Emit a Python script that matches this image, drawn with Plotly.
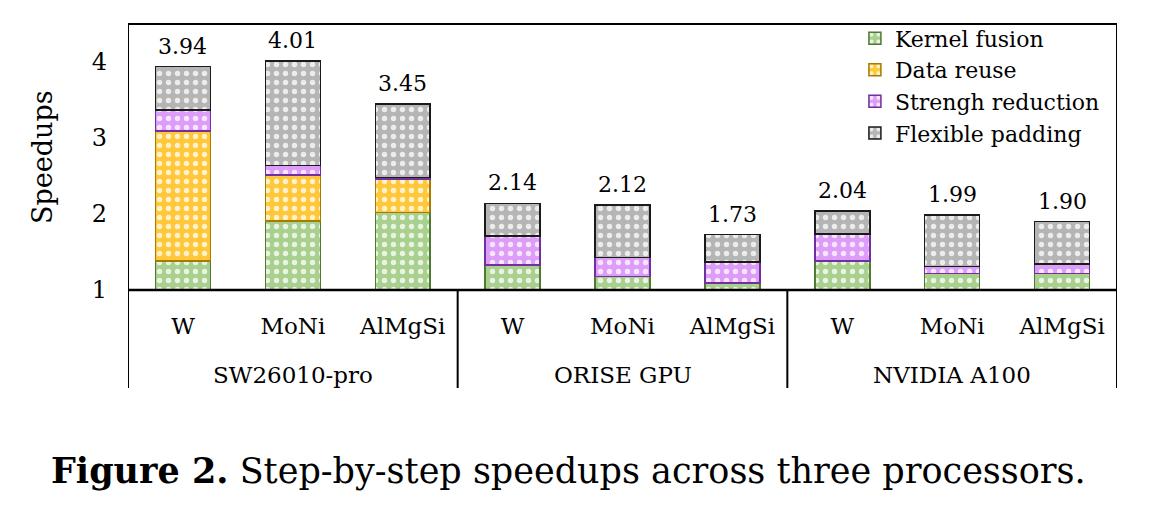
import plotly.graph_objects as go

# ---- data (cumulative speedup after each optimisation step) ----
groups = ["SW26010-pro", "ORISE GPU", "NVIDIA A100"]
materials = ["W", "MoNi", "AlMgSi"]
after_kernel_fusion = [1.38, 1.91, 2.02, 1.33, 1.18, 1.09, 1.38, 1.22, 1.22]
after_data_reuse    = [3.09, 2.51, 2.46, 1.33, 1.18, 1.09, 1.38, 1.22, 1.22]
after_strength_red  = [3.37, 2.64, 2.48, 1.71, 1.43, 1.37, 1.74, 1.31, 1.34]
after_padding       = [3.94, 4.01, 3.45, 2.14, 2.12, 1.73, 2.04, 1.99, 1.90]
total_labels = ["3.94", "4.01", "3.45", "2.14", "2.12", "1.73", "2.04", "1.99", "1.90"]
series_names = ["Kernel fusion", "Data reuse", "Strengh reduction", "Flexible padding"]
y_ticks = [1, 2, 3, 4]

FONT = "DejaVu Serif"
fills = ["#a9d08e", "#ffc83a", "#dc9cf8", "#b5b5b5"]
edges = ["#4f7a32", "#a57c00", "#7030a0", "#1a1a1a"]

xs = list(range(len(after_padding)))
xlabels = materials * len(groups)

levels = [after_kernel_fusion, after_data_reuse, after_strength_red, after_padding]
segments = []
prev = [0.0] * len(xs)
for lv in levels:
    segments.append([round(a - b, 4) for a, b in zip(lv, prev)])
    prev = lv

fig = go.Figure()
for name, seg, fc, ec in zip(series_names, segments, fills, edges):
    fig.add_trace(go.Bar(
        x=xs, y=seg, name=name, width=0.5,
        marker=dict(color=fc, line=dict(color=ec, width=1.5),
                    pattern=dict(shape=".", fgcolor="white", size=9, solidity=0.28,
                                 fgopacity=0.75)),
        hoverinfo="skip",
    ))

annotations = []
# total labels above the bars
for xv, yv, t in zip(xs, after_padding, total_labels):
    annotations.append(dict(x=xv, y=yv, xref="x", yref="y", text=t, showarrow=False,
                            yanchor="bottom", yshift=6,
                            font=dict(family=FONT, size=22, color="black")))
# group labels
for gi, g in enumerate(groups):
    annotations.append(dict(x=gi * 3 + 1, xref="x", y=-0.32, yref="paper",
                            text=g, showarrow=False, yanchor="middle",
                            font=dict(family=FONT, size=23, color="black")))
annotations.append(dict(x=-0.087, xref="paper", y=0.5, yref="paper", text="Speedups",
                        textangle=-90, showarrow=False, xanchor="center", yanchor="middle",
                        font=dict(family=FONT, size=27, color="black")))
annotations.append(dict(
    x=(568 - 128) / 989, xref="paper", y=(290 - 470) / 266, yref="paper",
    text="<b>Figure 2.</b> Step-by-step speedups across three processors.",
    showarrow=False, xanchor="center", yanchor="middle",
    font=dict(family=FONT, size=35, color="black")))

shapes = []
for xd in [-0.5, 2.5, 5.5, 8.5]:
    shapes.append(dict(type="line", xref="x", yref="paper", x0=xd, x1=xd,
                       y0=(290 - 388) / 266, y1=0 if xd in (2.5, 5.5) else 1,
                       line=dict(color="black", width=2)))
shapes.append(dict(type="line", xref="paper", yref="paper", x0=0, x1=1, y0=1, y1=1,
                   line=dict(color="black", width=2)))
shapes.append(dict(type="line", xref="paper", yref="paper", x0=0, x1=1, y0=0, y1=0,
                   line=dict(color="black", width=2.5)))

fig.update_layout(
    barmode="stack",
    width=1166, height=518,
    margin=dict(l=128, r=49, t=24, b=228),
    paper_bgcolor="white", plot_bgcolor="white",
    font=dict(family=FONT, color="black"),
    showlegend=True,
    legend=dict(x=0.735, y=1.025, xanchor="left", yanchor="top", traceorder="normal",
                font=dict(family=FONT, size=22, color="black"),
                bgcolor="rgba(0,0,0,0)", itemwidth=30, tracegroupgap=0),
    xaxis=dict(range=[-0.5, 8.5], tickmode="array", tickvals=xs, ticktext=xlabels,
               showgrid=False, zeroline=False, showline=False, ticks="",
               tickfont=dict(family=FONT, size=23, color="black"), ticklabelstandoff=20),
    yaxis=dict(range=[1, 4.5], tickvals=y_ticks, showgrid=False, zeroline=False,
               showline=False, ticks="", ticklabelstandoff=20,
               tickfont=dict(family=FONT, size=24, color="black")),
    annotations=annotations,
    shapes=shapes,
)

fig.write_html("out.html")
